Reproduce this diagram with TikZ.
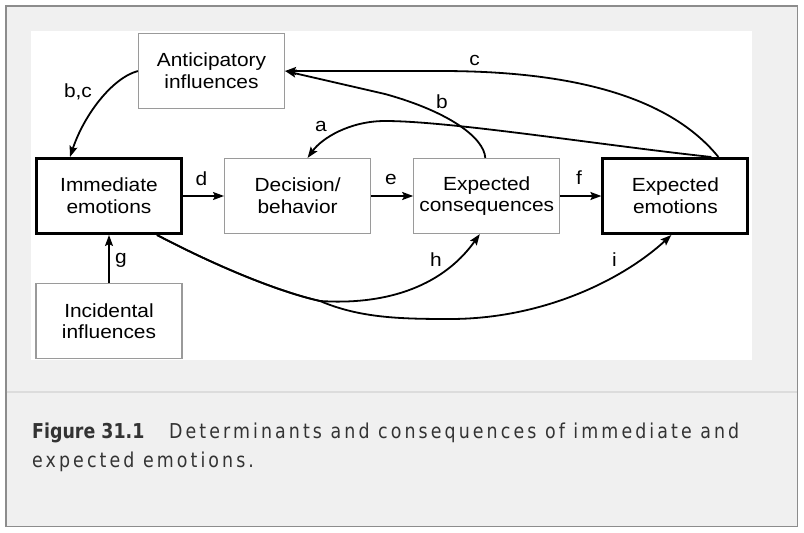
\documentclass[tikz,border=0pt]{standalone}
\usepackage{fontspec}
\setmainfont{Liberation Sans}[FakeStretch=1.1]
\newfontfamily\capfont{DejaVu Sans}[FakeStretch=0.85, LetterSpace=15]
\newfontfamily\numfont{DejaVu Sans}[FakeStretch=0.85]
\usepackage{tikz}
\usetikzlibrary{arrows.meta,positioning,backgrounds}
\definecolor{pagegray}{HTML}{F0F0F0}
\definecolor{framegray}{HTML}{8C8C8C}
\definecolor{rulegray}{HTML}{DCDCDC}
\definecolor{boxgray}{HTML}{9A9A9A}
\definecolor{inkgray}{HTML}{333333}

\begin{document}
\begin{tikzpicture}
				[x=1pt, y=-1pt, inner sep=0pt,
				thinbox/.style	= {draw=boxgray, line width=1.2pt, fill=white, minimum width=146pt, minimum height=75pt, align=center, font=\fontsize{19}{21.6}\selectfont},
				thickbox/.style	= {thinbox, draw=black, line width=3pt, minimum width=145pt},
				link/.style		= {line width=1.8pt, -{Stealth[length=11pt,width=8pt,inset=2pt]}},
				tag/.style		= {font=\fontsize{19}{21.6}\selectfont},
				caption/.style	= {anchor=base west, text=inkgray, font=\capfont\fontsize{20.5}{24}\selectfont}]
				
				% page and panel
				\useasboundingbox (0,0) rectangle (804,533);
				\fill [white] (0,0) rectangle (804,533);
				\draw [framegray, line width=1.5pt, fill=pagegray] (5.75,5.75) rectangle (797.25,526.25);
				\fill [white] (31,31) rectangle (752,360);
				\draw [rulegray, line width=2pt] (6.5,392) -- (796.5,392);
				
				\node [thickbox]	at (109,196)				(immed)		{Immediate\\emotions};
				\node [thinbox]		[right = 41pt of immed]		(decis)		{Decision/\\behavior};
				\node [thinbox]		[right = 42pt of decis]		(conseq)	{Expected\\consequences};
				\node [thickbox]	[right = 41pt of conseq]	(expemo)	{Expected\\emotions};
				\node [thinbox]		at (211.5,71)				(antic)		{Anticipatory\\influences};
				\node [thinbox]		[below = 48pt of immed]		(incid)		{Incidental\\influences};
				
				% straight links
				\draw [link] (immed.east) -- (decis.west);
				\draw [link] (decis.east) -- (conseq.west);
				\draw [link] (conseq.east) -- (expemo.west);
				\draw [link] (incid.north) -- (immed.south);
				
				% curved links
				\draw [link] (antic.west) .. controls (112,78) and (84,115) .. ([xshift=-39pt]immed.north);
				\draw [link] ([xshift=43pt]expemo.north) .. controls (660,85) and (540,71) .. (440,71) -- (antic.east);
				\draw [link] ([xshift=-1.5pt]conseq.north) .. controls (484,138) and (450,112) .. (385,94) -- (antic.east);
				\draw [link] ([xshift=36pt]expemo.north) .. controls (600,145) and (450,121) .. (385,121)
								.. controls (350,121) and (322,138) .. ([xshift=10pt]decis.north);
				\draw [link] ([xshift=48pt]immed.south) .. controls (220,268) and (280,292) .. (320,301)
								.. controls (380,305) and (440,290) .. ([xshift=-7pt]conseq.south);
				\draw [link] ([xshift=48pt]immed.south) .. controls (220,268) and (280,292) .. (320,301)
								.. controls (360,318) and (400,319) .. (450,319)
								.. controls (540,319) and (620,282) .. ([xshift=-4pt]expemo.south);
				
				% link letters
				\node [tag]	at (78,92)		(lbc)	{b,c};
				\node [tag]	at (321,126.5)	(la)	{a};
				\node [tag]	at (442,101.5)	(lb)	{b};
				\node [tag]	at (474.5,60.5)	(lc)	{c};
				\node [tag]	at (201.5,179)	(ld)	{d};
				\node [tag]	at (391,179)	(le)	{e};
				\node [tag]	at (579,178)	(lf)	{f};
				\node [tag]	at (121,260)	(lg)	{g};
				\node [tag]	at (436,260)	(lh)	{h};
				\node [tag]	at (614.5,259.5)	(li)	{i};
				
				% caption
				\node [caption, font=\numfont\bfseries\fontsize{20.5}{24}\selectfont]	at (32,438)	(fignum)	{Figure 31.1};
				\node [caption]	at (169,438)	(capline1)	{Determinants and consequences of immediate and};
				\node [caption]	at (32,467)		(capline2)	{expected emotions.};
\end{tikzpicture}
\end{document}
